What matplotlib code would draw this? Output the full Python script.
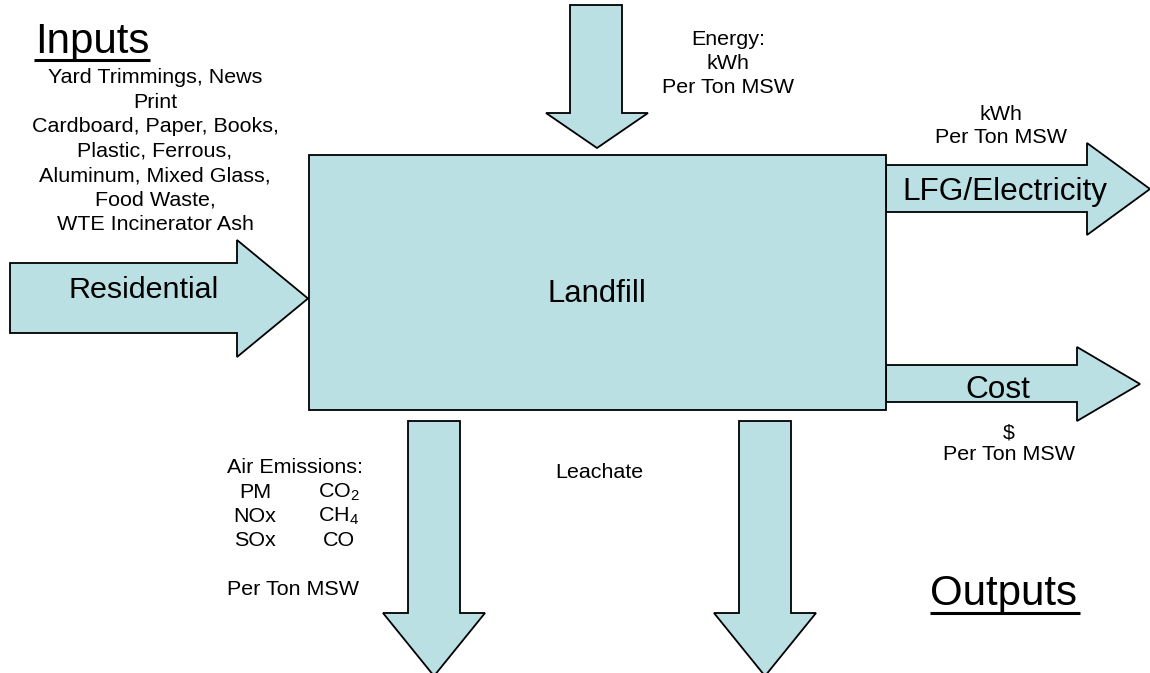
import matplotlib
matplotlib.use("Agg")
import matplotlib.pyplot as plt
from matplotlib.patches import Polygon, Rectangle

plt.rcParams['font.family'] = ['Liberation Sans', 'DejaVu Sans']
plt.rcParams['mathtext.fontset'] = 'custom'
plt.rcParams['mathtext.rm'] = 'Liberation Sans'
plt.rcParams['mathtext.it'] = 'Liberation Sans'

# ---- content ----
input_items = ["Yard Trimmings, News", "Print", "Cardboard, Paper, Books,",
               "Plastic, Ferrous,", "Aluminum, Mixed Glass,", "Food Waste,",
               "WTE Incinerator Ash"]
energy_lines = ["Energy:", "kWh", "Per Ton MSW"]
lfg_lines = ["kWh", "Per Ton MSW"]
cost_lines = ["$", "Per Ton MSW"]
emis_left = ["PM", "NOx", "SOx"]
emis_right = [r"CO$_2$", r"CH$_4$", "CO"]

FILL = "#BAE0E3"
EDGE = "black"
LW = 1.3

W, H = 1150, 673
fig = plt.figure(figsize=(W / 100, H / 100), dpi=100)
ax = fig.add_axes([0, 0, 1, 1])
ax.set_xlim(0, W)
ax.set_ylim(H, 0)
ax.axis("off")


def px(p):
    return p * 0.72


def harrow(x0, x1, xtip, y0, y1, hy0, hy1):
    ym = (hy0 + hy1) / 2
    pts = [(x0, y0), (x1, y0), (x1, hy0), (xtip, ym), (x1, hy1), (x1, y1), (x0, y1)]
    ax.add_patch(Polygon(pts, closed=True, fc=FILL, ec=EDGE, lw=LW, zorder=2))


def varrow(y0, y1, ytip, x0, x1, hx0, hx1):
    xm = (hx0 + hx1) / 2
    pts = [(x0, y0), (x1, y0), (x1, y1), (hx1, y1), (xm, ytip), (hx0, y1), (x0, y1)]
    ax.add_patch(Polygon(pts, closed=True, fc=FILL, ec=EDGE, lw=LW, zorder=2))


def txt(x, y, s, size, ha="center"):
    ax.text(x, y, s, fontsize=px(size), ha=ha, va="baseline", zorder=5)


# main box
ax.add_patch(Rectangle((309, 155), 886 - 309, 410 - 155, fc=FILL, ec=EDGE, lw=LW, zorder=3))

# arrows
harrow(10, 237, 308, 263, 333, 240, 357)            # Residential
harrow(886, 1087, 1150, 165, 212, 143, 235)         # LFG
harrow(886, 1077, 1140, 365, 402, 347, 421)         # Cost
varrow(5, 113, 148, 570, 622, 546, 648)             # Energy
varrow(421, 613, 676, 408, 460, 383, 485)           # Air emissions
varrow(421, 613, 676, 739, 791, 714, 816)           # Leachate

# headers
txt(92, 53, "Inputs", 42)
ax.plot([34, 150], [59.5, 59.5], color="black", lw=2.2, zorder=5, solid_capstyle="butt")
txt(1004, 605, "Outputs", 42)
ax.plot([930, 1080], [612.5, 612.5], color="black", lw=2.2, zorder=5, solid_capstyle="butt")

# input list
for i, s in enumerate(input_items):
    txt(155, 83 + i * 24.5, s, 21.5)

txt(143.5, 298, "Residential", 30.5)
txt(596.5, 302, "Landfill", 31)
txt(1005, 200, "LFG/Electricity", 31.5)
txt(997.5, 398, "Cost", 31.5)

for i, s in enumerate(energy_lines):
    txt(728, 45 + i * 24, s, 21.5)
for i, s in enumerate(lfg_lines):
    txt(1001, 120 + i * 23, s, 21.5)
for i, s in enumerate(cost_lines):
    txt(1009, 438 + i * 22.5, s, 21.5)

txt(227, 473, "Air Emissions:", 21.5, ha="left")
for i, s in enumerate(emis_left):
    txt(255, 498 + i * 24, s, 21.5)
for i, s in enumerate(emis_right):
    txt(339, 498 + i * 24, s, 21.5)
txt(227, 595, "Per Ton MSW", 21.5, ha="left")
txt(555, 478, "Leachate", 21.5, ha="left")

fig.savefig("out.png", dpi=100)
